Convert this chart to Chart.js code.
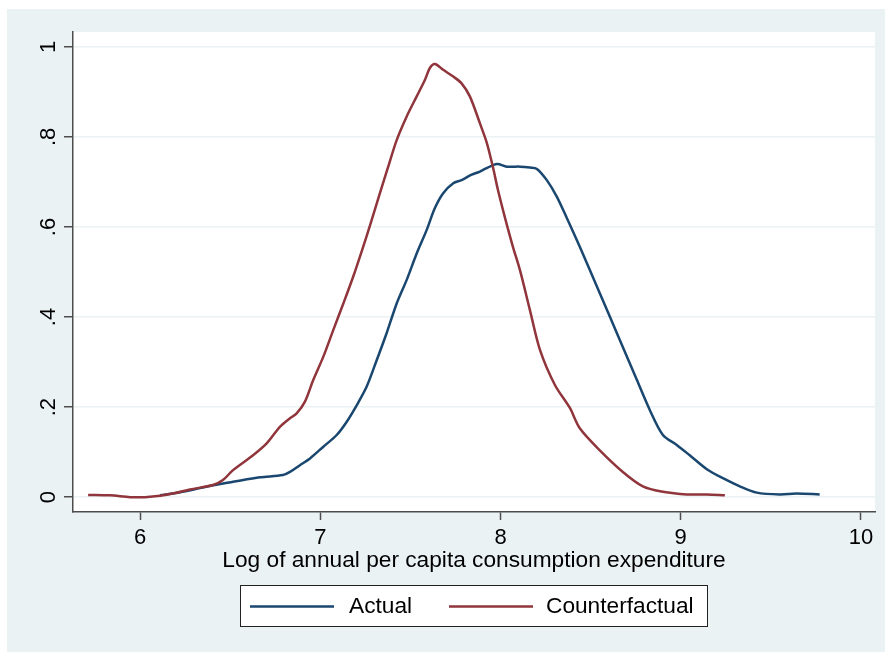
<!DOCTYPE html>
<html>
<head>
<meta charset="utf-8">
<script src="https://cdn.jsdelivr.net/npm/chart.js@4/dist/chart.umd.min.js"></script>
<style>
html,body{margin:0;padding:0;background:#fff;}
#wrap{width:885px;height:653px;}
</style>
</head>
<body>
<div id="wrap"><canvas id="c" width="885" height="653"></canvas></div>
<script>
// Data
const actualX = [6.111,6.222,6.333,6.444,6.516,6.666,6.793,6.832,6.887,6.943,7.017,7.091,7.146,7.202,7.257,7.313,7.368,7.424,7.479,7.535,7.59,7.636,7.682,7.738,7.784,7.84,7.886,7.92,7.98,8.035,8.108,8.163,8.202,8.257,8.313,8.368,8.44,8.551,8.662,8.757,8.829,8.901,8.978,9.05,9.145,9.234,9.328,9.422,9.55,9.644,9.771];
const actualY = [0.004,0.011,0.02,0.029,0.034,0.044,0.049,0.056,0.071,0.086,0.112,0.138,0.167,0.204,0.245,0.304,0.364,0.43,0.482,0.541,0.593,0.642,0.675,0.697,0.704,0.716,0.723,0.73,0.74,0.734,0.734,0.732,0.729,0.704,0.667,0.62,0.556,0.453,0.349,0.26,0.193,0.138,0.116,0.093,0.062,0.042,0.024,0.01,0.006,0.008,0.006];
const counterX = [5.712,5.834,5.945,6.028,6.111,6.194,6.277,6.405,6.46,6.516,6.627,6.704,6.776,6.832,6.869,6.915,6.961,7.017,7.072,7.128,7.183,7.238,7.285,7.331,7.377,7.424,7.479,7.535,7.581,7.608,7.636,7.682,7.738,7.784,7.83,7.886,7.924,7.958,7.986,8.024,8.069,8.108,8.163,8.219,8.302,8.385,8.44,8.551,8.679,8.79,8.901,9.034,9.145,9.245];
const counterY = [0.005,0.004,0.0,0.0,0.003,0.009,0.017,0.027,0.038,0.06,0.093,0.12,0.156,0.175,0.186,0.212,0.26,0.312,0.371,0.43,0.49,0.556,0.615,0.675,0.734,0.793,0.845,0.89,0.927,0.953,0.962,0.949,0.934,0.919,0.89,0.83,0.787,0.733,0.682,0.622,0.556,0.504,0.416,0.327,0.249,0.198,0.153,0.104,0.056,0.024,0.012,0.006,0.006,0.004];
const seriesLabels = ["Actual", "Counterfactual"];
const xTickValues = [6, 7, 8, 9, 10];
const yTickValues = [0, 0.2, 0.4, 0.6, 0.8, 1];
const yTickLabels = ["0", ".2", ".4", ".6", ".8", "1"];
const xTitle = "Log of annual per capita consumption expenditure";

const FONT = '"Liberation Sans", Arial, Helvetica, sans-serif';
const BG = '#EAF2F3';
const AXIS = '#4d4d4d';
const BLUE = '#1a476f';
const RED = '#90353b';

const toPts = (xs, ys) => xs.map((x, i) => ({x: x, y: ys[i]}));

const bgPlugin = {
  id: 'bg',
  beforeDraw(chart) {
    const ctx = chart.ctx, a = chart.chartArea;
    ctx.save();
    ctx.fillStyle = '#fff';
    ctx.fillRect(0, 0, chart.width, chart.height);
    ctx.fillStyle = BG;
    ctx.fillRect(7, 9, chart.width - 7, 643);
    ctx.fillStyle = '#fff';
    ctx.fillRect(a.left, a.top, a.right - a.left, a.bottom - a.top);
    ctx.restore();
  }
};

const yLabelPlugin = {
  id: 'ylabels',
  afterDraw(chart) {
    const ctx = chart.ctx, ys = chart.scales.y;
    ctx.save();
    ctx.fillStyle = '#000';
    ctx.font = '22px ' + FONT;
    ctx.textAlign = 'center';
    ctx.textBaseline = 'alphabetic';
    yTickValues.forEach((v, i) => {
      const py = ys.getPixelForValue(v);
      ctx.save();
      ctx.translate(55, py);
      ctx.rotate(-Math.PI / 2);
      ctx.fillText(yTickLabels[i], 0, 0);
      ctx.restore();
    });
    ctx.restore();
  }
};

const legendPlugin = {
  id: 'boxlegend',
  afterDraw(chart) {
    const ctx = chart.ctx;
    const ds = chart.data.datasets;
    ctx.save();
    ctx.fillStyle = '#fff';
    ctx.fillRect(240.5, 585.5, 467, 41);
    ctx.strokeStyle = '#222';
    ctx.lineWidth = 1;
    ctx.strokeRect(240.5, 585.5, 467, 41);
    const items = [{x1: 250, x2: 334, tx: 349}, {x1: 449, x2: 533, tx: 546}];
    const cy = 606.5;
    ctx.font = '22.7px ' + FONT;
    ctx.textAlign = 'left';
    ctx.textBaseline = 'middle';
    ds.forEach((d, i) => {
      const it = items[i];
      ctx.strokeStyle = d.borderColor;
      ctx.lineWidth = 2.5;
      ctx.beginPath();
      ctx.moveTo(it.x1, cy);
      ctx.lineTo(it.x2, cy);
      ctx.stroke();
      ctx.fillStyle = '#000';
      ctx.fillText(d.label, it.tx, cy);
    });
    ctx.restore();
  }
};

new Chart(document.getElementById('c'), {
  type: 'line',
  data: {
    datasets: [
      {label: seriesLabels[0], data: toPts(actualX, actualY), borderColor: BLUE, borderWidth: 2.5, pointRadius: 0, tension: 0.3, fill: false, order: 1},
      {label: seriesLabels[1], data: toPts(counterX, counterY), borderColor: RED, borderWidth: 2.5, pointRadius: 0, tension: 0.3, fill: false, order: 0}
    ]
  },
  options: {
    responsive: false,
    animation: false,
    devicePixelRatio: 1,
    layout: {padding: {left: 0, top: 32, right: 10, bottom: 0}},
    plugins: {legend: {display: false}, tooltip: {enabled: false}},
    scales: {
      x: {
        type: 'linear',
        min: 5.628,
        max: 10.078,
        afterBuildTicks: s => { s.ticks = xTickValues.map(v => ({value: v})); },
        afterFit: s => { s.height = 141; },
        grid: {drawOnChartArea: false, drawTicks: true, tickLength: 8, tickColor: AXIS, tickWidth: 1.5},
        border: {display: true, color: AXIS, width: 1.5},
        ticks: {color: '#000', font: {family: FONT, size: 22}, padding: 5, maxRotation: 0, autoSkip: false},
        title: {display: true, text: xTitle, color: '#000', font: {family: FONT, size: 22.7}, padding: {top: 0, bottom: 79}}
      },
      y: {
        type: 'linear',
        min: -0.033,
        max: 1.033,
        afterBuildTicks: s => { s.ticks = yTickValues.map(v => ({value: v})); },
        afterFit: s => { s.width = 73; },
        grid: {color: BG, lineWidth: 1.5, drawTicks: true, tickLength: 9, tickColor: AXIS, tickWidth: 1.5},
        border: {display: true, color: AXIS, width: 1.5},
        ticks: {display: false}
      }
    }
  },
  plugins: [bgPlugin, yLabelPlugin, legendPlugin]
});
</script>
</body>
</html>
